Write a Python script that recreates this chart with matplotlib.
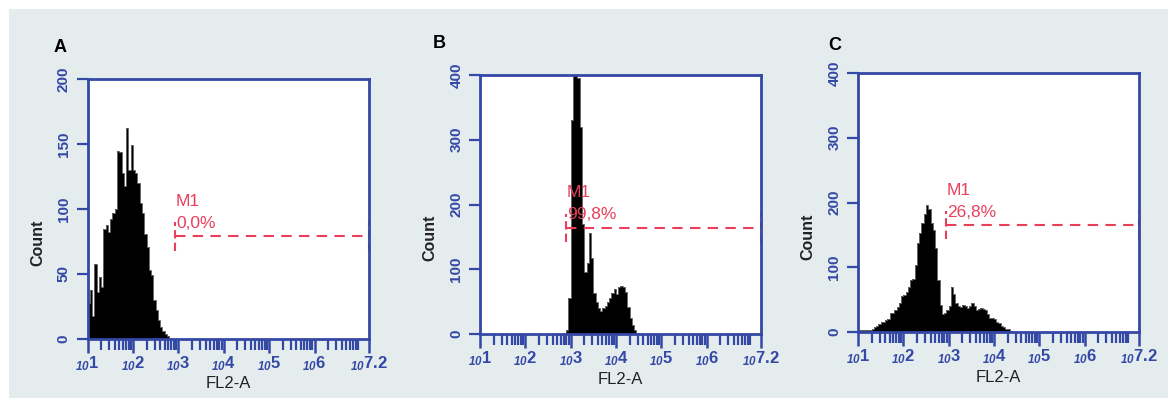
import matplotlib
matplotlib.use("Agg")
import matplotlib.pyplot as plt
from matplotlib.patches import Rectangle
import numpy as np

plt.rcParams['font.family'] = ['Liberation Sans', 'DejaVu Sans']
plt.rcParams['mathtext.fontset'] = 'custom'
plt.rcParams['mathtext.rm'] = 'Liberation Sans:bold:italic'
plt.rcParams['mathtext.bf'] = 'Liberation Sans:bold:italic'
plt.rcParams['mathtext.default'] = 'rm'

# histogram counts, one value per 0.05-decade channel
bin_w = 0.05
a_start = 1.0
a_counts = [28, 38, 18, 58, 36, 48, 40, 85, 88, 82, 92, 97, 100, 145, 144, 128, 118, 162,
            130, 149, 130, 128, 120, 105, 97, 81, 71, 53, 49, 30, 22, 15, 9, 6, 4, 2]
b_start = 2.85
b_counts = [2, 6, 55, 330, 405, 405, 395, 320, 170, 95, 110, 156, 118, 63, 50, 40, 36,
            40, 44, 50, 56, 64, 70, 62, 72, 74, 72, 65, 42, 25, 14, 6, 2, 0]
c_start = 1.0
c_counts = [3, 3, 3, 3, 3, 3, 4, 8, 10, 12, 16, 15, 18, 20, 29, 30, 34, 39, 45, 55, 57,
            62, 70, 80, 82, 103, 137, 153, 168, 183, 196, 190, 168, 157, 130, 80, 42, 28,
            30, 34, 40, 70, 58, 45, 40, 39, 42, 40, 37, 40, 45, 40, 34, 36, 37, 35, 34,
            28, 22, 22, 20, 16, 14, 10, 8, 5, 4, 2]

panel_names = ['A', 'B', 'C']
y_max = [200, 400, 400]
y_ticks = [[0, 50, 100, 150, 200], [0, 100, 200, 300, 400], [0, 100, 200, 300, 400]]
gate_lo = [2.93, 2.90, 2.94]   # log10 of M1 start
gate_y = [79, 164, 165]
gate_pct = ['0,0%', '99,8%', '26,8%']

x_dec = [1, 2, 3, 4, 5, 6, 7.2]
x_labels = [r'$_{10}$1', r'$_{10}$2', r'$_{10}$3', r'$_{10}$4', r'$_{10}$5', r'$_{10}$6', r'$_{10}$7.2']

blue = '#3448a6'
red = '#e8405a'

fig = plt.figure(figsize=(11.68, 3.99), dpi=100)
fig.patch.set_facecolor('white')
fig.patches.append(Rectangle((9 / 1168, 1 / 399), 1, 389 / 399, transform=fig.transFigure,
                             facecolor='#e4ecee', edgecolor='none', zorder=-10))

# axes boxes measured in pixels: left, top, right, bottom
boxes = [(87.5, 79, 369, 339), (480, 75, 761, 334), (858, 73, 1139, 332)]
label_xy = [(60, 47), (439, 43), (835, 45)]
count_xy = [(38, 243), (430, 238), (808, 237)]
fl2_xy = [(228, 384), (620, 379), (998, 377)]

data = [(a_start, a_counts), (b_start, b_counts), (c_start, c_counts)]

for i in range(3):
    l, t, r, b = boxes[i]
    ax = fig.add_axes([l / 1168, 1 - b / 399, (r - l) / 1168, (b - t) / 399])
    ax.set_facecolor('white')
    start, counts = data[i]
    edges = 10 ** (start + bin_w * np.arange(len(counts) + 1))
    ax.stairs(counts, edges, fill=True, color='black', linewidth=0)
    ax.stairs(counts, edges, color='#666666', linewidth=0.7)

    ax.set_xscale('log')
    ax.set_xlim(10, 10 ** 7.2)
    ax.set_ylim(0, y_max[i])

    # M1 gate
    x0 = 10 ** gate_lo[i]
    x1 = 10 ** 7.2
    ym = y_max[i]
    d = 0.055 * ym
    ax.hlines(gate_y[i], x0, x1, colors=red, linestyles=(0, (5, 3.5)), linewidth=1.5, clip_on=False)
    ax.vlines([x0, x1], gate_y[i] - d, gate_y[i] + d, colors=red, linestyles=(0, (4, 2)),
              linewidth=1.5, clip_on=False)
    ax.text(10 ** (gate_lo[i] + 0.02), gate_y[i] + 0.135 * ym, 'M1', color=red, fontsize=12.5,
            ha='left', va='center')
    ax.text(10 ** (gate_lo[i] + 0.02), gate_y[i] + 0.05 * ym, gate_pct[i], color=red,
            fontsize=12.5, ha='left', va='center')

    for s in ax.spines.values():
        s.set_color(blue)
        s.set_linewidth(2)

    ax.set_xticks([10 ** v for v in x_dec])
    ax.set_xticklabels(x_labels)
    ax.xaxis.set_minor_locator(matplotlib.ticker.LogLocator(base=10, subs=np.arange(2, 10), numticks=20))
    ax.xaxis.set_minor_formatter(matplotlib.ticker.NullFormatter())
    ax.tick_params(axis='x', which='major', length=10, width=1.8, color=blue, labelcolor=blue,
                   labelsize=12, pad=1)
    ax.tick_params(axis='x', which='minor', length=8, width=1.6, color=blue)
    for lab in ax.get_xticklabels():
        lab.set_fontweight('bold')

    ax.set_yticks(y_ticks[i])
    ax.tick_params(axis='y', length=8, width=1.6, color=blue, labelcolor=blue, labelsize=11,
                   labelrotation=90, pad=4)
    for lab in ax.get_yticklabels():
        lab.set_fontweight('bold')
        lab.set_va('center')

    fig.text(label_xy[i][0] / 1168, 1 - label_xy[i][1] / 399, panel_names[i], fontsize=13,
             fontweight='bold', ha='center', va='center')
    fig.text(count_xy[i][0] / 1168, 1 - count_xy[i][1] / 399, 'Count', fontsize=11.5,
             fontweight='bold', rotation=90, ha='center', va='center', color='#222222')
    fig.text(fl2_xy[i][0] / 1168, 1 - fl2_xy[i][1] / 399, 'FL2-A', fontsize=12,
             ha='center', va='center', color='#222222')

fig.savefig('out.png', dpi=100)
